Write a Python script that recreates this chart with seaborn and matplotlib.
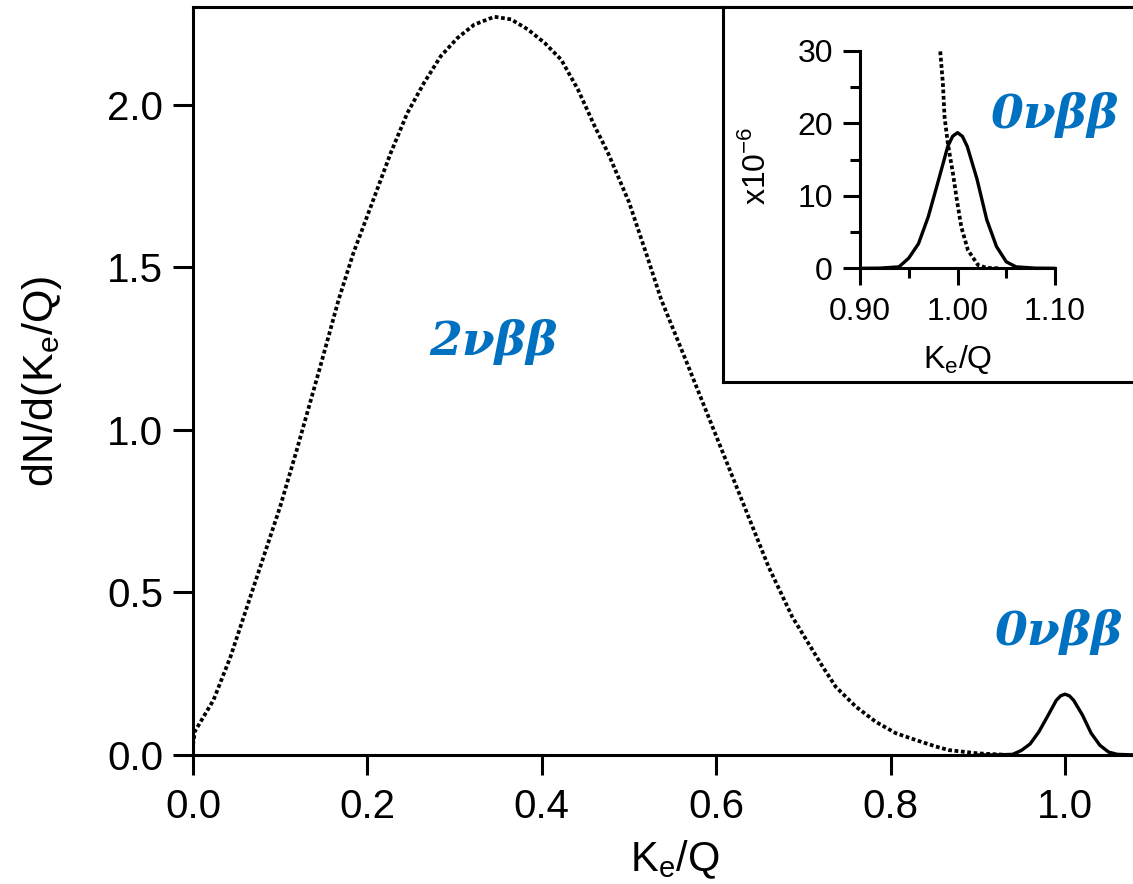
import matplotlib
matplotlib.use("Agg")
import matplotlib.pyplot as plt
import seaborn as sns
import pandas as pd

# 2vbb spectrum (main plot)
two_x = [0.0, 0.002, 0.0235, 0.043, 0.062, 0.081, 0.100, 0.119, 0.146, 0.167, 0.184,
         0.204, 0.2267, 0.2458, 0.2650, 0.2842, 0.3034, 0.3226, 0.3456, 0.3648, 0.3840,
         0.4031, 0.4223, 0.4415, 0.4607, 0.4760, 0.50, 0.52, 0.537, 0.568, 0.591, 0.614,
         0.637, 0.660, 0.687, 0.722, 0.737, 0.760, 0.783, 0.806, 0.829, 0.852, 0.867,
         0.90, 0.93]
two_y = [0.03, 0.072, 0.169, 0.302, 0.456, 0.610, 0.764, 0.938, 1.195, 1.40, 1.544,
         1.687, 1.851, 1.974, 2.067, 2.149, 2.205, 2.246, 2.270, 2.262, 2.231,
         2.190, 2.138, 2.046, 1.933, 1.851, 1.70, 1.54, 1.40, 1.195, 1.041, 0.887,
         0.733, 0.579, 0.426, 0.272, 0.210, 0.149, 0.102, 0.067, 0.046, 0.026, 0.015,
         0.005, 0.001]

# 0vbb peak
zero_x = [0.90, 0.92, 0.94, 0.95, 0.96, 0.97, 0.98, 0.99, 0.995, 1.00, 1.005, 1.01,
          1.02, 1.03, 1.04, 1.05, 1.06, 1.08, 1.10]
zero_main = [0.0, 0.0002, 0.002, 0.014, 0.034, 0.071, 0.119, 0.168, 0.182, 0.187, 0.182,
             0.168, 0.123, 0.067, 0.030, 0.009, 0.002, 0.0002, 0.0]
zero_inset = [0.0, 0.02, 0.2, 1.4, 3.4, 7.1, 11.9, 16.8, 18.2, 18.7, 18.2,
              16.8, 12.3, 6.7, 3.0, 0.9, 0.2, 0.02, 0.0]

# tail of the 2vbb spectrum in the inset (x10^-6)
tail_x = [0.9823, 0.985, 0.9867, 0.9901, 0.9953, 0.9994, 1.0039, 1.0107, 1.021, 1.030, 1.044]
tail_y = [29.9, 25.5, 20.9, 17.2, 13.1, 9.4, 5.7, 2.5, 0.46, 0.05, 0.0]

main_xticks = [0.0, 0.2, 0.4, 0.6, 0.8, 1.0]
main_yticks = [0.0, 0.5, 1.0, 1.5, 2.0]
inset_xticks = [0.90, 1.00, 1.10]
inset_yticks = [0, 10, 20, 30]

sns.set_style("ticks")
plt.rcParams['font.family'] = ['Liberation Sans', 'DejaVu Sans']
plt.rcParams['mathtext.fontset'] = 'custom'
for key in ['text.color', 'axes.labelcolor', 'xtick.color', 'ytick.color', 'axes.edgecolor']:
    plt.rcParams[key] = 'black'

blue = '#0070C0'
lw_axis = 2.2
dots = (0, (1, 0.7))

df_two = pd.DataFrame({'x': two_x, 'y': two_y})
df_zero = pd.DataFrame({'x': zero_x, 'y': zero_main, 'yi': zero_inset})
df_tail = pd.DataFrame({'x': tail_x, 'y': tail_y})

fig = plt.figure(figsize=(11.33, 8.84), dpi=100)

# main axes
ax = fig.add_axes([193 / 1133, 1 - 755 / 884, 1 - 193 / 1133, (755 - 7) / 884])
sns.lineplot(data=df_two, x='x', y='y', ax=ax, color='black', lw=2.7,
             linestyle=dots, sort=False)
sns.lineplot(data=df_zero, x='x', y='y', ax=ax, color='black', lw=2.4, sort=False)
ax.set_xlim(0, 1.078)
ax.set_ylim(0, 2.30)
ax.set_xticks(main_xticks)
ax.set_yticks(main_yticks)
ax.set_xticklabels([f'{v:.1f}' for v in main_xticks])
ax.set_yticklabels([f'{v:.1f}' for v in main_yticks])
ax.tick_params(axis='both', length=14.5, width=lw_axis, labelsize=29, direction='out')
ax.tick_params(axis='x', pad=9)
ax.tick_params(axis='y', pad=7)
for s in ['left', 'bottom', 'top']:
    ax.spines[s].set_linewidth(lw_axis)
ax.spines['right'].set_visible(False)
ax.set_xlabel(r'K$_\mathregular{e}$/Q', fontsize=30, va='top')
ax.xaxis.set_label_coords(0.513, -0.112)
ax.set_ylabel(r'dN/d(K$_\mathregular{e}$/Q)', fontsize=31)
ax.yaxis.set_label_coords(-0.137, 0.50)

ax.text(0.344, 1.231, '2νββ', color=blue, fontsize=34, fontweight='bold', style='italic',
        family='DejaVu Serif', ha='center', va='baseline')
ax.text(0.993, 0.338, '0νββ', color=blue, fontsize=34, fontweight='bold', style='italic',
        family='DejaVu Serif', ha='center', va='baseline')

# inset frame
box = fig.add_axes([723 / 1133, 1 - 382 / 884, (1140 - 723) / 1133, (382 - 7) / 884])
box.set_xticks([])
box.set_yticks([])
for s in box.spines.values():
    s.set_linewidth(lw_axis)
box.set_facecolor('white')

# inset axes
axi = fig.add_axes([860 / 1133, 1 - 268.3 / 884, 195 / 1133, 217.6 / 884])
axi.patch.set_alpha(0)
sns.lineplot(data=df_zero, x='x', y='yi', ax=axi, color='black', lw=2.4, sort=False,
             clip_on=False)
sns.lineplot(data=df_tail, x='x', y='y', ax=axi, color='black', lw=2.7,
             linestyle=dots, sort=False)
axi.set_xlim(0.90, 1.10)
axi.set_ylim(0, 30)
axi.set_xticks(inset_xticks)
axi.set_xticks([0.95, 1.05], minor=True)
axi.set_yticks(inset_yticks)
axi.set_yticks([5, 15, 25], minor=True)
axi.set_xticklabels([f'{v:.2f}' for v in inset_xticks])
axi.tick_params(axis='both', which='major', length=12.5, width=lw_axis, labelsize=23)
axi.tick_params(axis='both', which='minor', length=7, width=lw_axis)
axi.tick_params(axis='x', pad=8)
axi.tick_params(axis='y', pad=7)
sns.despine(ax=axi)
for s in ['left', 'bottom']:
    axi.spines[s].set_linewidth(lw_axis)
axi.set_xlabel(r'K$_\mathregular{e}$/Q', fontsize=23, va='top')
axi.xaxis.set_label_coords(0.50, -0.345)
axi.set_ylabel(r'x10$^\mathregular{-6}$', fontsize=23)
axi.yaxis.set_label_coords(-0.45, 0.47)
axi.text(1.10, 19.35, '0νββ', color=blue, fontsize=34, fontweight='bold', style='italic',
         family='DejaVu Serif', ha='center', va='baseline', clip_on=False)

fig.savefig('out.png', dpi=100)
